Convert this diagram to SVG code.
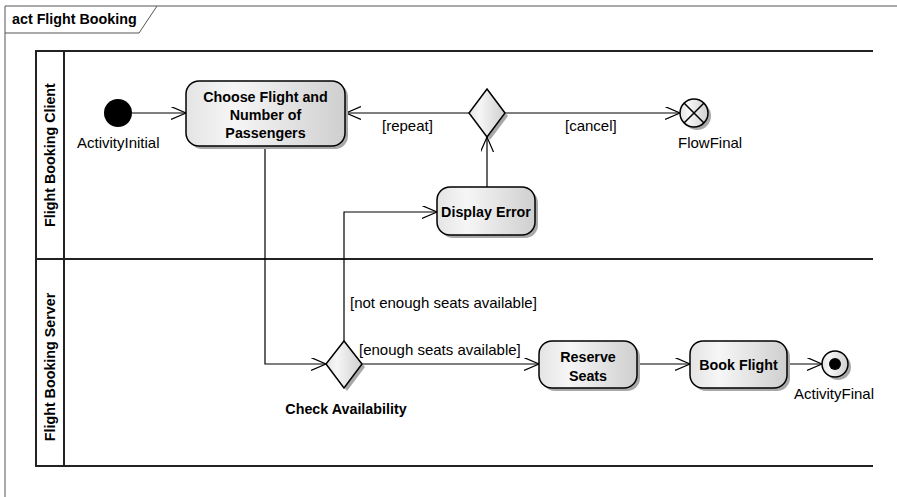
<svg xmlns="http://www.w3.org/2000/svg" width="897" height="497" viewBox="0 0 897 497">
<style>
text{font-family:"Liberation Sans",Arial,sans-serif;fill:#000}
.b{font-weight:bold;font-size:14.3px}
.r{font-size:15px}
.c{stroke:#000;stroke-width:1.2;fill:none}
.lane{stroke:#222;stroke-width:2;fill:none}
.node{fill:url(#g);stroke:#000;stroke-width:1.5}
.sh{fill:#a8a8a8}
</style>
<defs>
<linearGradient id="g" x1="0" y1="0" x2="1" y2="0">
<stop offset="0" stop-color="#e4e4e4"/>
<stop offset="0.3" stop-color="#f6f6f6"/>
<stop offset="1" stop-color="#cfcfcf"/>
</linearGradient>
<marker id="a" markerUnits="userSpaceOnUse" markerWidth="18" markerHeight="14" refX="15" refY="6.5" orient="auto">
<path d="M0,0 L15,6.5 L0,13" fill="none" stroke="#000" stroke-width="1.2"/>
</marker>
</defs>
<rect width="897" height="497" fill="#fff"/>
<g id="frame">
<path d="M5,497 V6 H897" fill="none" stroke="#555" stroke-width="1"/>
<path d="M5,33 H139 L157,6" fill="none" stroke="#555" stroke-width="1"/>
<text x="12" y="24" class="b">act Flight Booking</text>
</g>
<g id="lanes">
<path class="lane" d="M873,51 H36 V466 H873 M64,51 V466 M36,259 H873"/>
<text class="b" transform="translate(55,155) rotate(-90)" text-anchor="middle">Flight Booking Client</text>
<text class="b" transform="translate(55,367) rotate(-90)" text-anchor="middle">Flight Booking Server</text>
</g>
<g id="connectors">
<path class="c" d="M132,113 H186" marker-end="url(#a)"/>
<path class="c" d="M469,113 H346" marker-end="url(#a)"/>
<path class="c" d="M505,113 H680" marker-end="url(#a)"/>
<path class="c" d="M487,187 V137" marker-end="url(#a)"/>
<path class="c" d="M265,146 V364 H326" marker-end="url(#a)"/>
<path class="c" d="M344,341 V212 H437" marker-end="url(#a)"/>
<path class="c" d="M362,364 H539" marker-end="url(#a)"/>
<path class="c" d="M637,364 H690" marker-end="url(#a)"/>
<path class="c" d="M787,364 H822" marker-end="url(#a)"/>
<text x="382" y="131" class="r">[repeat]</text>
<text x="565" y="131" class="r">[cancel]</text>
<text x="350" y="308" class="r">[not enough seats available]</text>
<text x="359" y="355" class="r">[enough seats available]</text>
</g>
<g id="initial">
<circle cx="118" cy="113" r="14" fill="#000"/>
<text x="77" y="148" class="r">ActivityInitial</text>
</g>
<g id="choose">
<rect x="189" y="84" width="159" height="65" rx="13" class="sh"/>
<rect x="186" y="81" width="159" height="65" rx="13" class="node"/>
<text x="265.5" y="102" class="b" text-anchor="middle">Choose Flight and</text>
<text x="265.5" y="120" class="b" text-anchor="middle">Number of</text>
<text x="265.5" y="138" class="b" text-anchor="middle">Passengers</text>
</g>
<g id="decision1">
<path d="M490,92 L508,116 L490,140 L472,116 Z" class="sh"/>
<path d="M487,89 L505,113 L487,137 L469,113 Z" class="node"/>
</g>
<g id="flowfinal">
<circle cx="697" cy="116" r="14" class="sh"/>
<circle cx="694" cy="113" r="14" class="node"/>
<path d="M684,103 L704,123 M704,103 L684,123" stroke="#000" stroke-width="1.5"/>
<text x="678" y="148" class="r">FlowFinal</text>
</g>
<g id="displayerror">
<rect x="440" y="190" width="98" height="48" rx="13" class="sh"/>
<rect x="437" y="187" width="98" height="48" rx="13" class="node"/>
<text x="486" y="217" class="b" text-anchor="middle">Display Error</text>
</g>
<g id="decision2">
<path d="M347,344 L365,367 L347,391 L329,367 Z" class="sh"/>
<path d="M344,341 L362,364 L344,388 L326,364 Z" class="node"/>
<text x="346" y="414" class="b" text-anchor="middle">Check Availability</text>
</g>
<g id="reserve">
<rect x="542" y="344" width="98" height="47" rx="13" class="sh"/>
<rect x="539" y="341" width="98" height="47" rx="13" class="node"/>
<text x="588" y="362" class="b" text-anchor="middle">Reserve</text>
<text x="588" y="381" class="b" text-anchor="middle">Seats</text>
</g>
<g id="book">
<rect x="693" y="344" width="97" height="47" rx="13" class="sh"/>
<rect x="690" y="341" width="97" height="47" rx="13" class="node"/>
<text x="738.5" y="370" class="b" text-anchor="middle">Book Flight</text>
</g>
<g id="activityfinal">
<circle cx="838" cy="367" r="13" class="sh"/>
<circle cx="835" cy="364" r="13" class="node"/>
<circle cx="835" cy="364" r="6" fill="#000"/>
<text x="794" y="399" class="r">ActivityFinal</text>
</g>
</svg>
